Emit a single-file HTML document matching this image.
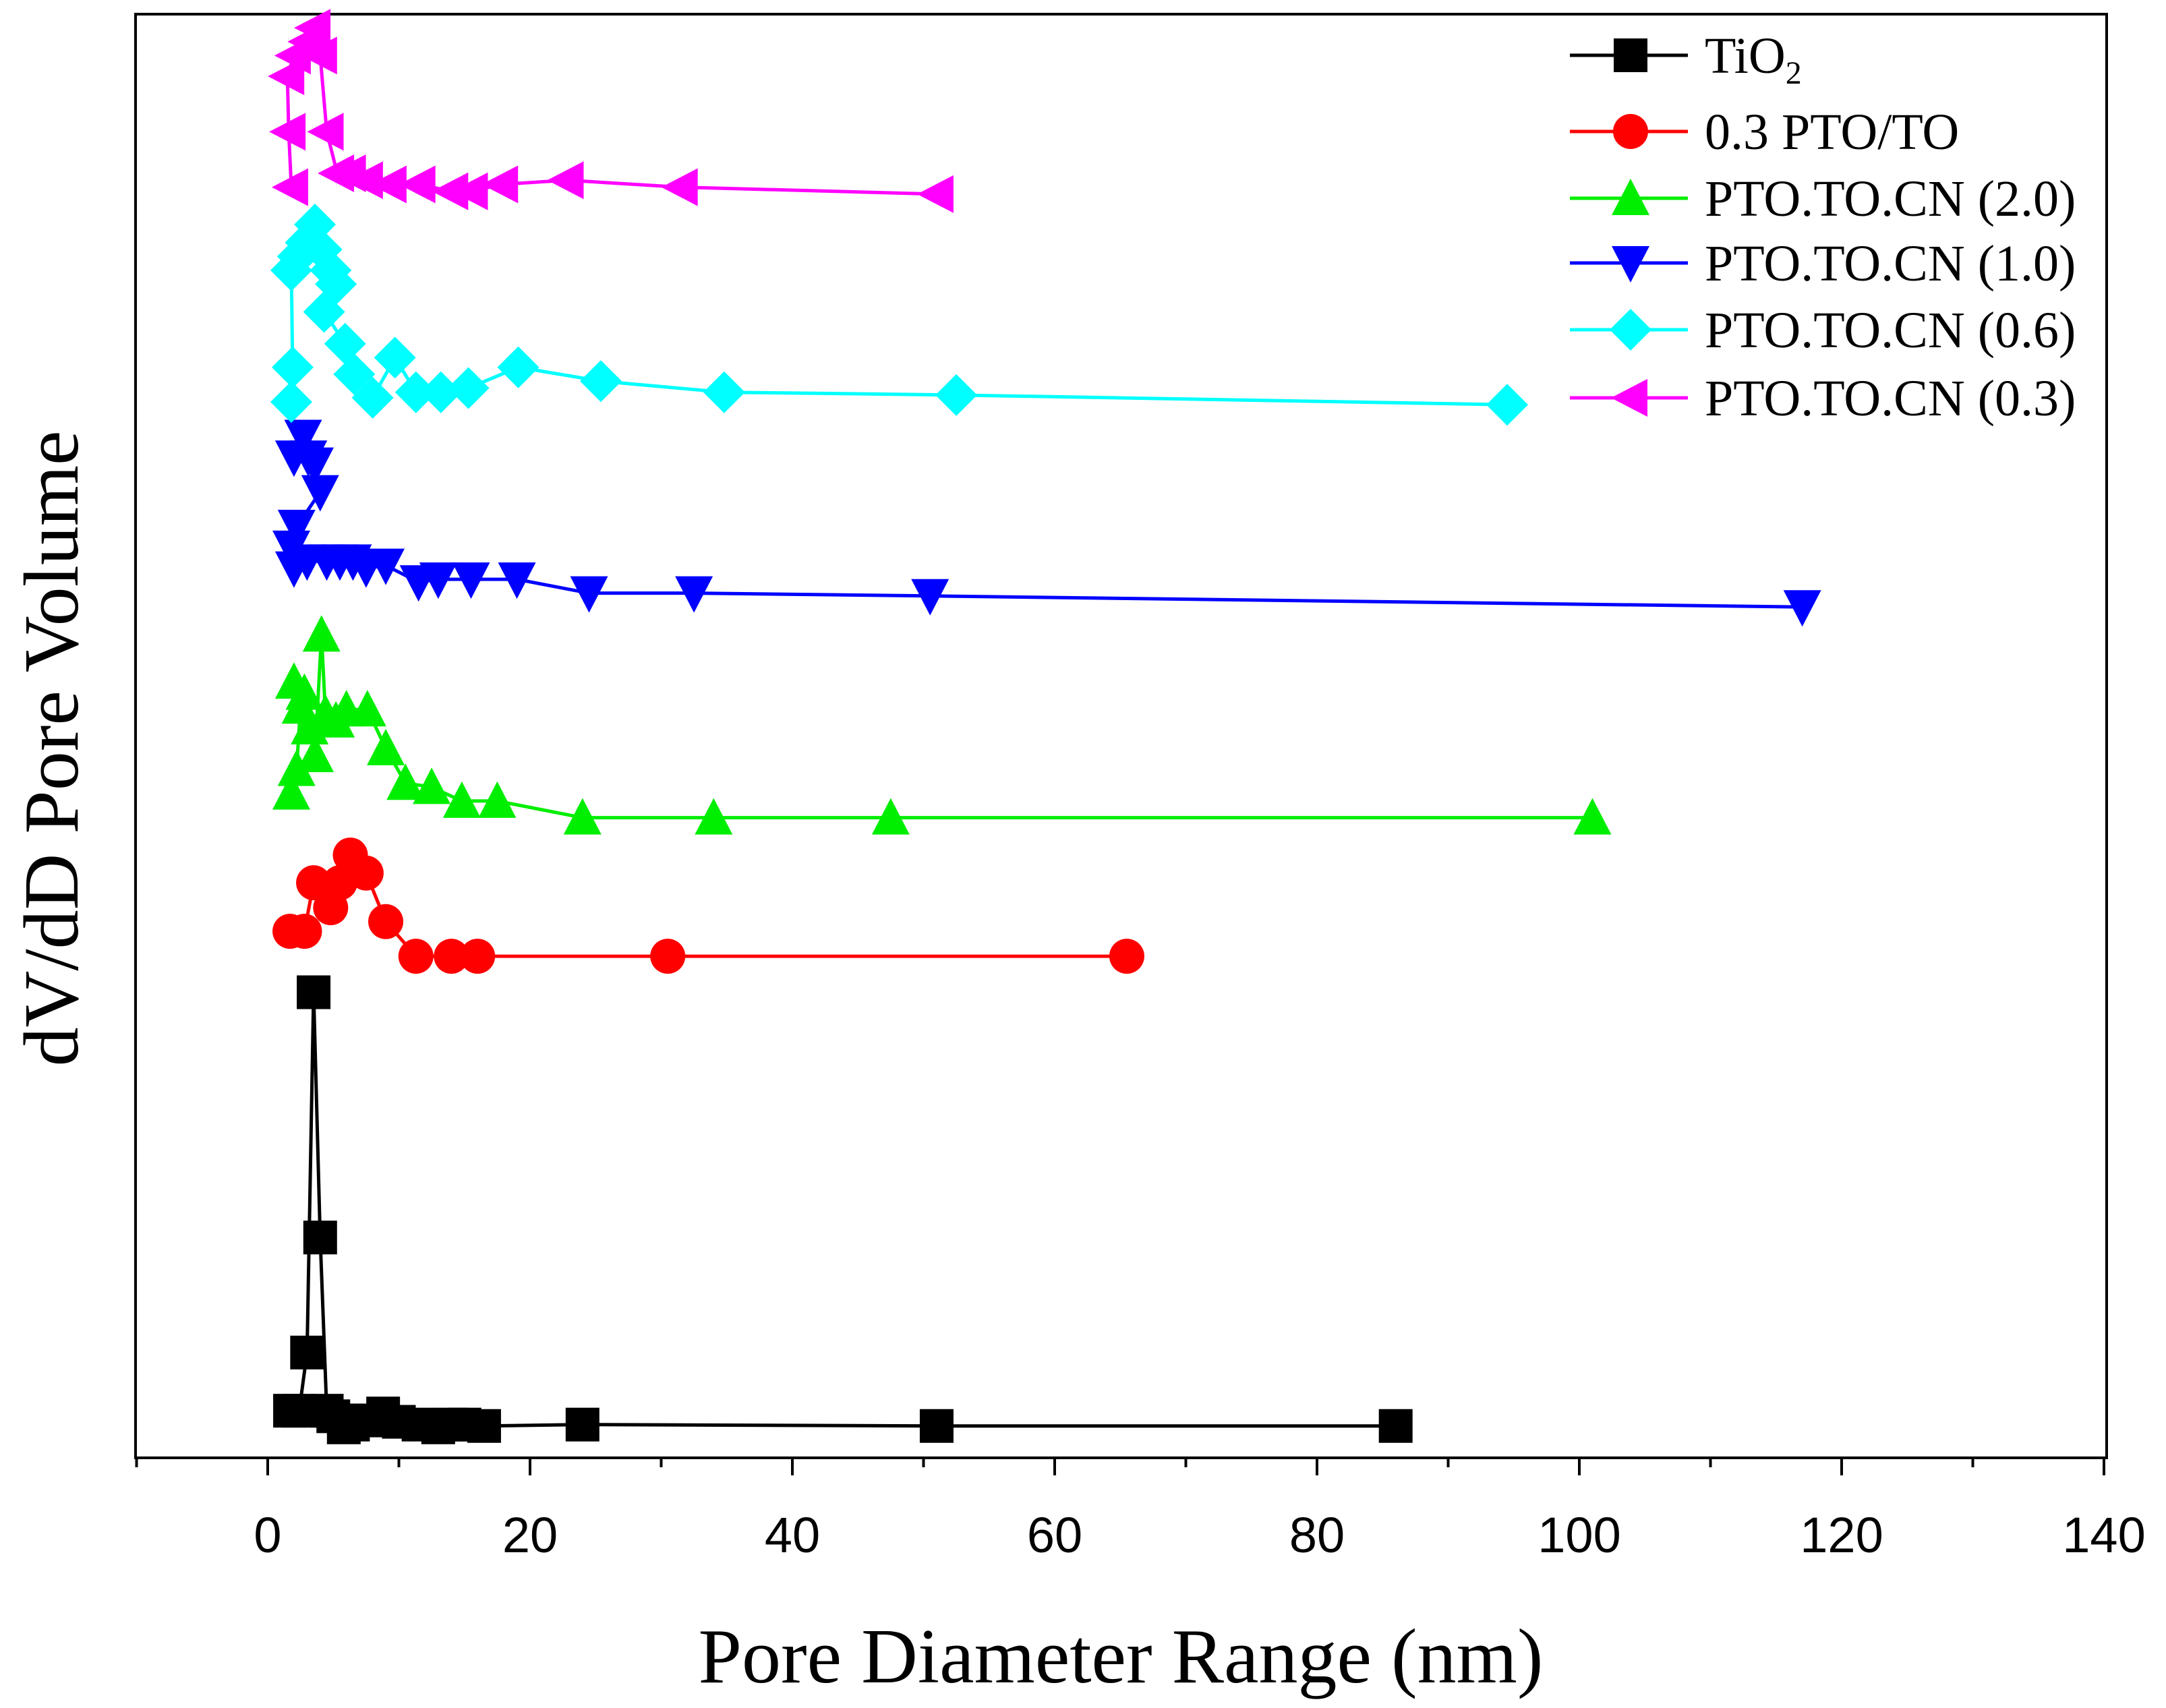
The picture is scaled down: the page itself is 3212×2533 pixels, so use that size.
<!DOCTYPE html>
<html><head><meta charset="utf-8"><style>
html,body{margin:0;padding:0;background:#fff;}
svg{display:block;}
</style></head><body>
<svg id="chart" width="3212" height="2533" viewBox="0 0 3212 2533" xmlns="http://www.w3.org/2000/svg"></svg>
<script>
const xTicks = [0,20,40,60,80,100,120,140];
const xMinorTicks = [-10,10,30,50,70,90,110,130];
const seriesNames = ["TiO2","0.3 PTO/TO","PTO.TO.CN (2.0)","PTO.TO.CN (1.0)","PTO.TO.CN (0.6)","PTO.TO.CN (0.3)"];
const tio2X = [1.7,2.4,3.0,3.5,4.0,4.5,5.0,5.8,6.5,7.5,8.8,10,11.5,13,14,15,16.5,24,51,86];
const tio2Y = [3.4,3.4,7.6,33.6,15.9,3.4,3.0,2.2,2.4,2.7,3.2,2.6,2.4,2.2,2.4,2.4,2.3,2.4,2.3,2.3];
const ptoX = [1.7,2.8,3.5,4.8,5.5,6.3,7.5,9,11.3,14,16,30.5,65.5];
const ptoY = [38.0,38.0,41.5,39.7,41.5,43.5,42.2,38.7,36.2,36.2,36.2,36.2,36.2];
const cn20X = [1.8,2.2,2.5,2.0,2.8,3.2,3.6,4.1,4.4,5.2,6.0,7.6,9,10.5,12.5,14.8,17.5,24,34,47.5,101];
const cn20Y = [48.0,49.7,54.2,56.0,55.2,52.7,50.7,59.4,53.7,53.2,54.0,54.0,51.2,48.7,48.4,47.4,47.4,46.2,46.2,46.2,46.2];
const cn10X = [2,2.7,3.1,3.6,4.0,2.2,1.8,2.0,3,4.5,5.5,6.5,7.5,9,11.5,13,15.5,19,24.5,32.5,50.5,117];
const cn10Y = [72.2,73.7,72.2,71.7,69.7,67.2,65.7,64.2,64.7,64.7,64.7,64.7,64.2,64.4,63.2,63.4,63.4,63.4,62.4,62.4,62.2,61.4];
const cn06X = [1.8,1.9,1.8,2.3,2.9,3.6,4.1,4.8,5.2,4.3,5.9,6.6,8,9.7,11.3,13.2,15.3,19.1,25.4,34.8,52.5,94.5];
const cn06Y = [76.2,78.7,85.7,86.7,87.7,89.0,87.2,85.7,84.7,82.7,80.4,78.2,76.5,79.4,76.9,76.9,77.2,78.7,77.7,76.9,76.7,76.0];
const cn03X = [1.8,1.6,1.5,2.0,3.0,3.5,4.0,4.5,5.3,6.2,7.5,9.3,11.5,14,15.5,17.8,22.8,31.5,51];
const cn03Y = [91.7,95.7,99.7,101.2,102.2,103.2,101.2,95.7,92.7,92.7,92.2,91.9,91.9,91.4,91.4,91.9,92.2,91.7,91.2];

const svg = document.getElementById('chart');
const NS = 'http://www.w3.org/2000/svg';
const L=201, R=3124, T=21, B=2162;
const xs = v => 397 + v*(3120-397)/140;
const ys = v => B - v*20.55;
function mk(tag, attrs, parent){const e=document.createElementNS(NS,tag);for(const k in attrs)e.setAttribute(k,attrs[k]);(parent||svg).appendChild(e);return e;}

const frame = mk('rect',{x:L,y:T,width:R-L,height:B-T,fill:'none',stroke:'#000','stroke-width':4});



xTicks.forEach(t=>{
  const l = mk('line',{x1:xs(t),x2:xs(t),y1:B,y2:B+26,stroke:'#000','stroke-width':4});
  
  
  const tx = mk('text',{x:xs(t),y:B+140,'text-anchor':'middle','font-family':'Liberation Sans, sans-serif','font-size':74,fill:'#000'});
  tx.textContent = t;
  
  
});
xMinorTicks.forEach(t=>{
  const l = mk('line',{x1:xs(t),x2:xs(t),y1:B,y2:B+14,stroke:'#000','stroke-width':4});
  
  
});

const xt = mk('text',{x:1662,y:2495,'text-anchor':'middle','font-family':'Liberation Serif, serif','font-size':116,fill:'#000'});
xt.textContent='Pore Diameter Range (nm)';


const yt = mk('text',{x:0,y:0,'text-anchor':'middle','font-family':'Liberation Serif, serif','font-size':116,fill:'#000',transform:'translate(115,1110) rotate(-90)'});
yt.textContent='dV/dD Pore Volume';



function marker(kind,cx,cy,color,g){
  const s=25;
  let e;
  if(kind==='square') e=mk('rect',{x:cx-s,y:cy-s,width:2*s,height:2*s,fill:color},g);
  else if(kind==='circle') e=mk('circle',{cx:cx,cy:cy,r:s+1,fill:color},g);
  else if(kind==='up') e=mk('polygon',{points:`${cx},${cy-s-4} ${cx+s+3},${cy+s} ${cx-s-3},${cy+s}`,fill:color},g);
  else if(kind==='down') e=mk('polygon',{points:`${cx},${cy+s+4} ${cx+s+3},${cy-s} ${cx-s-3},${cy-s}`,fill:color},g);
  else if(kind==='diamond') e=mk('polygon',{points:`${cx},${cy-s-6} ${cx+s+6},${cy} ${cx},${cy+s+6} ${cx-s-6},${cy}`,fill:color},g);
  else e=mk('polygon',{points:`${cx-s-4},${cy} ${cx+s},${cy-s-3} ${cx+s},${cy+s+3}`,fill:color},g);
  return e;
}
const series = [
  {x:tio2X,y:tio2Y,c:'#000000',k:'square',n:'tio2'},
  {x:ptoX,y:ptoY,c:'#ff0000',k:'circle',n:'pto-to'},
  {x:cn20X,y:cn20Y,c:'#00ee00',k:'up',n:'cn-2-0'},
  {x:cn10X,y:cn10Y,c:'#0000ff',k:'down',n:'cn-1-0'},
  {x:cn06X,y:cn06Y,c:'#00ffff',k:'diamond',n:'cn-0-6'},
  {x:cn03X,y:cn03Y,c:'#ff00ff',k:'left',n:'cn-0-3'}
];
series.forEach(s=>{
  const g = mk('g',{});
  
  
  const pts = s.x.map((v,i)=>xs(v)+','+ys(s.y[i])).join(' ');
  const pl = mk('polyline',{points:pts,fill:'none',stroke:s.c,'stroke-width':5},g);
  
  
  s.x.forEach((v,i)=>{
    const m = marker(s.k,xs(v),ys(s.y[i]),s.c,g);
    
    
  });
});

const legY = [82,195,294,390,489,590];
const lg = mk('g',{});


series.forEach((s,i)=>{
  const y = legY[i];
  const g = mk('g',{},lg);
  
  
  mk('line',{x1:2328,x2:2503,y1:y,y2:y,stroke:s.c,'stroke-width':5},g);
  marker(s.k,2418,y,s.c,g);
  const t = mk('text',{x:2528,y:y+26,'font-family':'Liberation Serif, serif','font-size':76,fill:'#000'},g);
  if(i===0){ t.innerHTML='TiO<tspan font-size="48" dy="16">2</tspan>'; }
  else t.textContent = seriesNames[i];
});
</script>
</body></html>
